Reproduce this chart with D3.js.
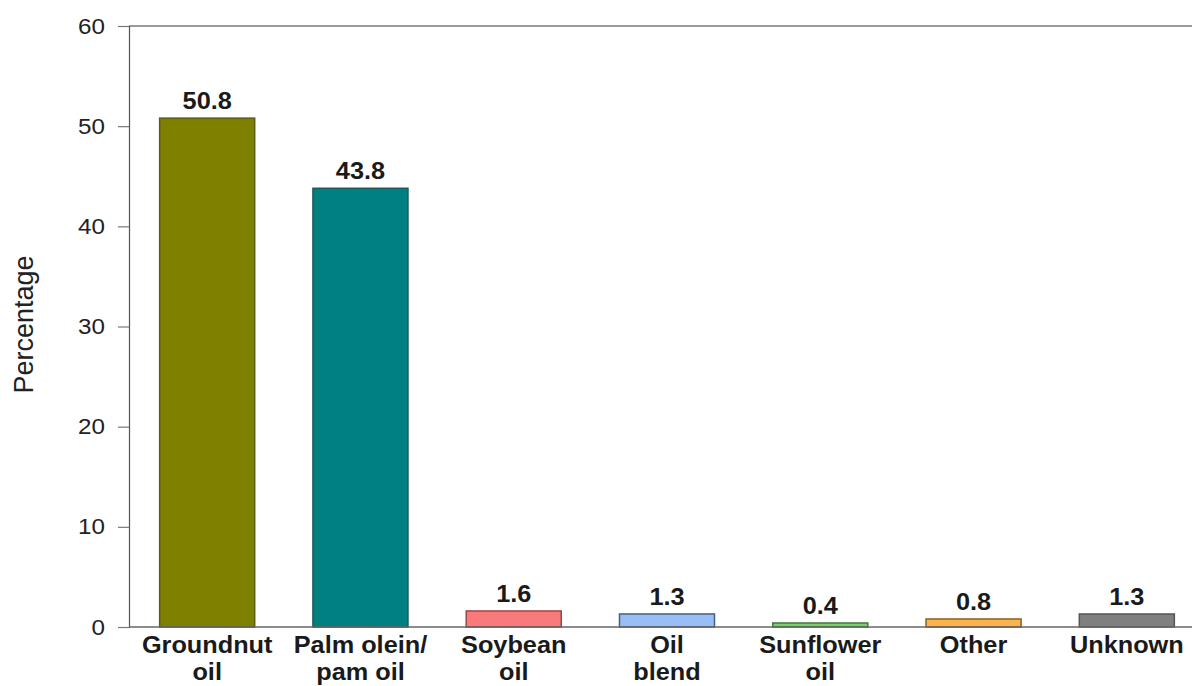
<!DOCTYPE html>
<html>
<head>
<meta charset="utf-8">
<script src="https://cdn.jsdelivr.net/npm/d3@7"></script>
<style>
  html, body { margin: 0; padding: 0; background: #fff; }
  svg { display: block; font-family: Arial, "Liberation Sans", sans-serif; }
</style>
</head>
<body>
<svg id="chart" width="1192" height="686"></svg>
<script>
// Oil types and share of households using each (%)
const categories = [
  ["Groundnut", "oil"],
  ["Palm olein/", "pam oil"],
  ["Soybean", "oil"],
  ["Oil", "blend"],
  ["Sunflower", "oil"],
  ["Other"],
  ["Unknown"]
];
const values = [50.8, 43.8, 1.6, 1.3, 0.4, 0.8, 1.3];
const fills = ["#808000", "#008080", "#f87a7a", "#97bef5", "#7ccf6e", "#fdb44e", "#7f7f7f"];
const strokes = ["#5a5a10", "#1e5a5a", "#a04545", "#4a5e80", "#3e7a3a", "#8a6020", "#555555"];
const yTicks = [0, 10, 20, 30, 40, 50, 60];

const svg = d3.select("#chart");
const x0 = 129, yBottom = 627, yTop = 26;
const stretch = 1.1; // text is drawn slightly wide

const x = d3.scaleBand()
  .domain(d3.range(values.length))
  .range([x0, 1205])
  .paddingInner(0.38)
  .paddingOuter(0.2);

const y = d3.scaleLinear().domain([0, 60]).range([yBottom, yTop]);

// top frame line
svg.append("line")
  .attr("x1", x0).attr("x2", 1192)
  .attr("y1", y(60)).attr("y2", y(60))
  .attr("stroke", "#7a7a7a").attr("stroke-width", 1.5);

// y axis
const yAxis = svg.append("g")
  .attr("transform", `translate(${x0},0)`)
  .call(d3.axisLeft(y).tickValues(yTicks).tickSize(11).tickPadding(0));
yAxis.select(".domain").attr("stroke", "#555").attr("stroke-width", 1.2);
yAxis.selectAll(".tick line").attr("stroke", "#777").attr("stroke-width", 1.2);
yAxis.selectAll(".tick text")
  .attr("x", null)
  .attr("transform", `translate(-24,0) scale(${stretch},1)`)
  .attr("font-size", 22).attr("fill", "#222")
  .attr("font-family", "Arial, 'Liberation Sans', sans-serif");

// bars
svg.selectAll("rect.bar")
  .data(values)
  .join("rect")
  .attr("class", "bar")
  .attr("x", (d, i) => x(i))
  .attr("width", x.bandwidth())
  .attr("y", d => y(d))
  .attr("height", d => y(0) - y(d))
  .attr("fill", (d, i) => fills[i])
  .attr("stroke", (d, i) => strokes[i])
  .attr("stroke-width", 1.5);

// x axis baseline
svg.append("line")
  .attr("x1", x0).attr("x2", 1192)
  .attr("y1", y(0)).attr("y2", y(0))
  .attr("stroke", "#666").attr("stroke-width", 1.5);

// value labels
svg.selectAll("text.val")
  .data(values)
  .join("text")
  .attr("class", "val")
  .attr("transform", (d, i) => `translate(${x(i) + x.bandwidth() / 2},${y(d) - 9}) scale(${stretch},1)`)
  .attr("text-anchor", "middle")
  .attr("font-size", 23)
  .attr("font-weight", "bold")
  .attr("fill", "#1a1a1a")
  .text(d => d.toFixed(1));

// category labels
const cat = svg.selectAll("text.cat")
  .data(categories)
  .join("text")
  .attr("class", "cat")
  .attr("transform", (d, i) => `translate(${x(i) + x.bandwidth() / 2},0) scale(${stretch},1)`)
  .attr("text-anchor", "middle")
  .attr("font-size", 23)
  .attr("font-weight", "bold")
  .attr("fill", "#1a1a1a");
cat.selectAll("tspan")
  .data(d => d)
  .join("tspan")
  .attr("x", 0)
  .attr("y", (d, j) => 653 + j * 27)
  .text(d => d);

// y axis title
svg.append("text")
  .attr("transform", `translate(33,${(yTop + yBottom) / 2 - 2}) rotate(-90)`)
  .attr("text-anchor", "middle")
  .attr("font-size", 27)
  .attr("fill", "#222")
  .text("Percentage");
</script>
</body>
</html>
